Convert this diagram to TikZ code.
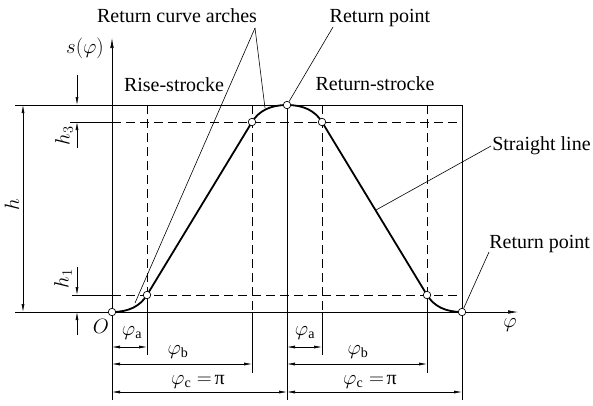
\documentclass[tikz,border=0pt]{standalone}
\usepackage{fontspec}
\setmainfont{Liberation Serif}
\usetikzlibrary{arrows.meta}
\begin{document}
\begin{tikzpicture}[x=1pt,y=-1pt,line width=0.6pt,
  curve/.style={line width=1.8pt,line join=round},
  dashline/.style={dash pattern=on 9pt off 5pt},
  tip/.style={-{Latex[length=8pt,width=3pt]}},
  dim/.style={{Latex[length=8pt,width=3pt]}-{Latex[length=8pt,width=3pt]}},
  axis/.style={-{Latex[length=10pt,width=3.5pt]}},
  pt/.style={circle,draw,fill=white,inner sep=0pt,minimum size=7.5pt,line width=0.7pt},
  lbl/.style={font=\fontsize{20}{24}\selectfont,inner sep=0pt},
  leader/.style={line width=0.6pt}]
\useasboundingbox (0,0) rectangle (593,405);
% key coordinates
\coordinate (c0) at (112,312);
\coordinate (c1) at (147,295);
\coordinate (c2) at (252,122);
\coordinate (c3) at (287,105);
\coordinate (c4) at (322,122);
\coordinate (c5) at (427,295);
\coordinate (c6) at (462,312);
% axes
\draw[axis] (15,312) -- (518,312);
\draw[axis] (112,400) -- (112,38);
% frame lines
\draw (15,105) -- (462,105);
\draw (70,122) -- (112,122);
\draw[dashline] (112,122) -- (462,122);
\draw (72,295) -- (112,295);
\draw[dashline] (112,295) -- (462,295);
\draw[dashline] (147,105) -- (c1); \draw (c1) -- (147,355);
\draw[dashline] (252,105) -- (252,312); \draw (252,312) -- (252,373);
\draw (287,105) -- (287,400);
\draw[dashline] (322,105) -- (322,312); \draw (322,312) -- (322,355);
\draw[dashline] (427,105) -- (c5); \draw (c5) -- (427,373);
\draw (462,105) -- (462,400);
% dimensions
\draw[dim] (23,105) -- (23,312);
\draw[tip] (77,75) -- (77,105);
\draw[tip] (77,148) -- (77,122);
\draw[tip] (77,267) -- (77,295);
\draw[tip] (77,335) -- (77,312);
\draw[dim] (112,347) -- (147,347);
\draw[dim] (112,364) -- (252,364);
\draw[dim] (112,392) -- (287,392);
\draw[dim] (287,347) -- (322,347);
\draw[dim] (287,364) -- (427,364);
\draw[dim] (287,392) -- (462,392);
% motion curve
\draw[curve] (c0) .. controls (128.5,312) and (140.1,306.3) .. (c1) -- (c2)
  .. controls (258.9,110.7) and (270.5,105) .. (c3)
  .. controls (303.5,105) and (315.1,110.7) .. (c4) -- (c5)
  .. controls (433.9,306.3) and (445.5,312) .. (c6);
% points
\node[pt] (P0) at (c0) {};
\node[pt] (P1) at (c1) {};
\node[pt] (P2) at (c2) {};
\node[pt] (P3) at (c3) {};
\node[pt] (P4) at (c4) {};
\node[pt] (P5) at (c5) {};
\node[pt] (P6) at (c6) {};
% annotations
\node[lbl,anchor=base] (arches) at (177,22) {Return curve arches};
\coordinate (apex) at (255,28);
\draw[leader] (apex) -- (135,303);
\draw[leader] (apex) -- (265,108);
\node[lbl,anchor=base] (rpt) at (380,22) {Return point};
\draw[leader] (333,27) -- (P3);
\node[lbl,anchor=base] (rise) at (174,91) {Rise-strocke};
\node[lbl,anchor=base] (ret) at (375,90) {Return-strocke};
\node[lbl,anchor=base west] (sl) at (492,150) {Straight line};
\draw[leader] (491,146) -- (376,210);
\node[lbl,anchor=base west] (rpt2) at (489,248) {Return point};
\draw[leader] (489,252) -- (P6);
% math labels
\node[lbl] (s) at (85,48) {$s(\varphi)$};
\node[lbl] (o) at (101,326) {$O$};
\node[lbl] (phi) at (510,325) {$\varphi$};
\node[lbl,rotate=90] (h) at (12,205) {$h$};
\node[lbl,rotate=90] (h3) at (64,136) {$h_3$};
\node[lbl,rotate=90] (h1) at (63,279) {$h_1$};
\node[lbl] (pa1) at (132,333) {$\varphi_{\mathrm{a}}$};
\node[lbl] (pb1) at (178,352) {$\varphi_{\mathrm{b}}$};
\node[lbl] (pc1) at (198,382) {$\varphi_{\mathrm{c}}={}$\kern-0.15em π};
\node[lbl] (pa2) at (305,333) {$\varphi_{\mathrm{a}}$};
\node[lbl] (pb2) at (358,352) {$\varphi_{\mathrm{b}}$};
\node[lbl] (pc2) at (370,382) {$\varphi_{\mathrm{c}}={}$\kern-0.15em π};
\end{tikzpicture}
\end{document}
